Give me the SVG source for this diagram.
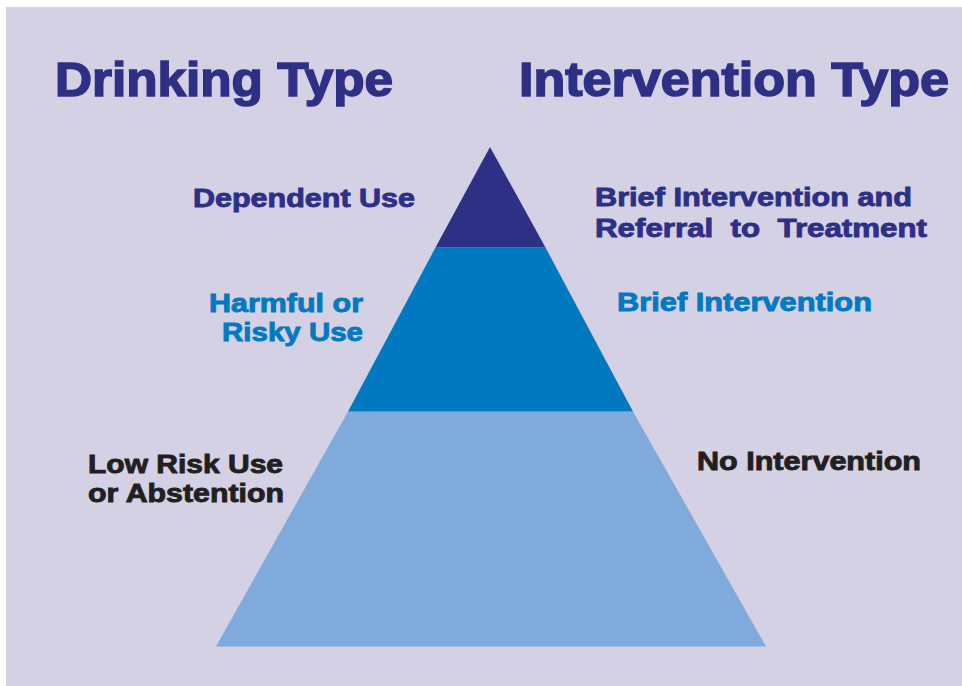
<svg xmlns="http://www.w3.org/2000/svg" width="962" height="686" viewBox="0 0 962 686">
<style>
.t{font-family:"Liberation Sans",Arial,sans-serif;font-weight:bold;}
.title{font-size:48px;fill:#2E3086;stroke:#2E3086;stroke-width:1.6;}
.lbl{font-size:26px;stroke-width:0.9;}
.navy{fill:#2E3086;stroke:#2E3086;}
.blue{fill:#0079C1;stroke:#0079C1;}
.dark{fill:#231F20;stroke:#231F20;}
</style>
<rect x="0" y="0" width="962" height="686" fill="#ffffff"/>
<rect x="6" y="7" width="956" height="679" fill="#D4D1E5"/>
<g id="pyramid">
<g id="tier-low"><polygon points="348,411.5 633,411.5 766,646.5 216,646.5" fill="#7FAADB"/></g>
<g id="tier-mid"><polygon points="435.5,247.5 545.5,247.5 633,411.5 348,411.5" fill="#0079C1"/></g>
<g id="tier-top"><polygon points="490,147 545.5,247.5 435.5,247.5" fill="#2E3086"/></g>
</g>
<g id="titles">
<text class="t title" x="55" y="96" textLength="338" lengthAdjust="spacingAndGlyphs">Drinking Type</text>
<text class="t title" x="519" y="96" textLength="430" lengthAdjust="spacingAndGlyphs">Intervention Type</text>
</g>
<g id="drinking-labels">
<text class="t lbl navy" x="193" y="207" textLength="222" lengthAdjust="spacingAndGlyphs">Dependent Use</text>
<text class="t lbl blue" x="209" y="312" textLength="154" lengthAdjust="spacingAndGlyphs">Harmful or</text>
<text class="t lbl blue" x="222" y="341" textLength="141" lengthAdjust="spacingAndGlyphs">Risky Use</text>
<text class="t lbl dark" x="88" y="473" textLength="195" lengthAdjust="spacingAndGlyphs">Low Risk Use</text>
<text class="t lbl dark" x="88" y="502" textLength="196" lengthAdjust="spacingAndGlyphs">or Abstention</text>
</g>
<g id="intervention-labels">
<text class="t lbl navy" x="595" y="206" textLength="317" lengthAdjust="spacingAndGlyphs">Brief Intervention and</text>
<text class="t lbl navy" x="595" y="237" textLength="332" lengthAdjust="spacingAndGlyphs" xml:space="preserve">Referral  to  Treatment</text>
<text class="t lbl blue" x="617" y="311" textLength="255" lengthAdjust="spacingAndGlyphs">Brief Intervention</text>
<text class="t lbl dark" x="697" y="470" textLength="224" lengthAdjust="spacingAndGlyphs">No Intervention</text>
</g>
</svg>
